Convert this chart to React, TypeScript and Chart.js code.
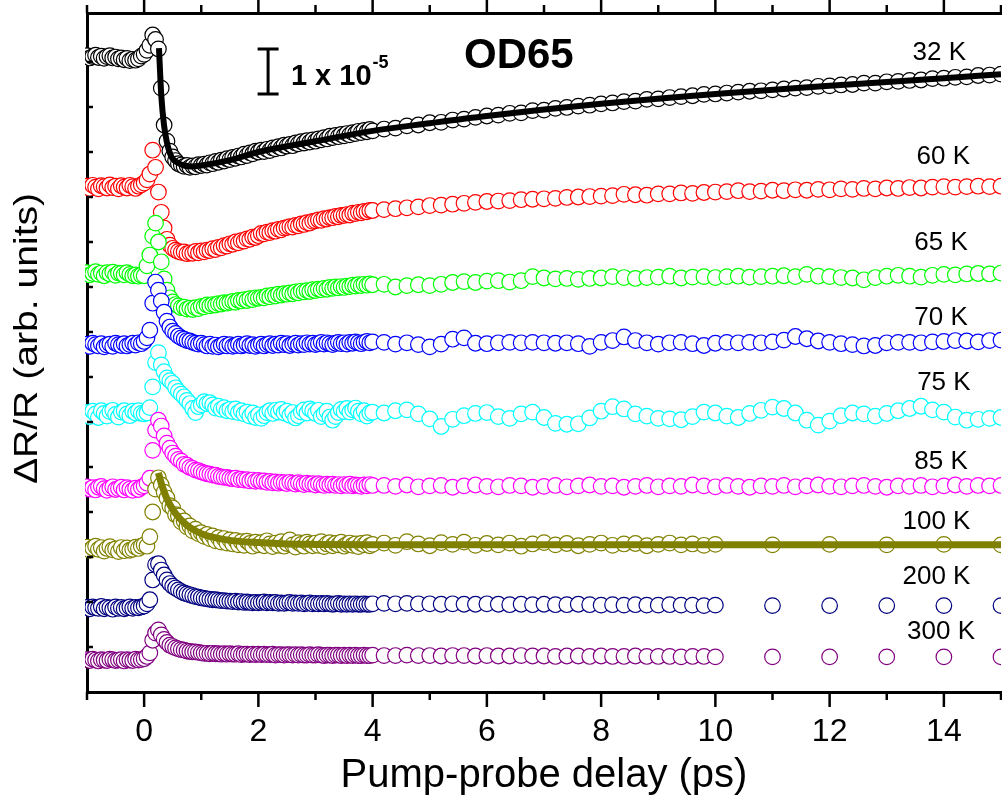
import React, { useEffect, useRef } from 'react';
import { Chart, registerables } from 'chart.js';

Chart.register(...registerables);

const FONT = "'Liberation Sans', Arial, Helvetica, sans-serif";

// ---- delay grids (ps) ----
const X_DENSE = [-1, -0.95, -0.9, -0.85, -0.8, -0.75, -0.7, -0.65, -0.6, -0.55, -0.5, -0.45, -0.4, -0.35, -0.3, -0.25, -0.2, -0.15, -0.1, -0.05,
  0, 0.05, 0.1, 0.15, 0.2, 0.25, 0.3, 0.35, 0.4, 0.45, 0.5, 0.55, 0.6, 0.65, 0.7, 0.75, 0.8, 0.85, 0.9, 0.95,
  1, 1.05, 1.1, 1.15, 1.2, 1.25, 1.3, 1.35, 1.4, 1.45, 1.5, 1.55, 1.6, 1.65, 1.7, 1.75, 1.8, 1.85, 1.9, 1.95,
  2, 2.05, 2.1, 2.15, 2.2, 2.25, 2.3, 2.35, 2.4, 2.45, 2.5, 2.55, 2.6, 2.65, 2.7, 2.75, 2.8, 2.85, 2.9, 2.95,
  3, 3.05, 3.1, 3.15, 3.2, 3.25, 3.3, 3.35, 3.4, 3.45, 3.5, 3.55, 3.6, 3.65, 3.7, 3.75, 3.8, 3.85, 3.9, 3.95, 4];
const X_LONG = [4.2, 4.4, 4.6, 4.8, 5, 5.2, 5.4, 5.6, 5.8, 6, 6.2, 6.4, 6.6, 6.8, 7, 7.2, 7.4, 7.6, 7.8, 8,
  8.2, 8.4, 8.6, 8.8, 9, 9.2, 9.4, 9.6, 9.8, 10, 10.2, 10.4, 10.6, 10.8, 11, 11.2, 11.4, 11.6, 11.8, 12,
  12.2, 12.4, 12.6, 12.8, 13, 13.2, 13.4, 13.6, 13.8, 14, 14.2, 14.4, 14.6, 14.8, 15];
const X_SHORT = [4.2, 4.4, 4.6, 4.8, 5, 5.2, 5.4, 5.6, 5.8, 6, 6.2, 6.4, 6.6, 6.8, 7, 7.2, 7.4, 7.6, 7.8, 8,
  8.2, 8.4, 8.6, 8.8, 9, 9.2, 9.4, 9.6, 9.8, 10, 11, 12, 13, 14, 15];

// ---- signals, units of 1e-6, relative to each curve's own pre-zero level ----
const T32_DENSE = [0.3, -0.2, 0.1, 0.4, -0.1, 0.2, -0.3, 0.1, 0.3, -0.2, 0.0, -0.4, -0.2, -0.6, -0.3, -0.8, -0.5, -0.7, -0.4, 0.2,
  0.6, 1.5, 2.6, 4.9, 3.9, 1.8, -6.9, -15.1, -18.7, -20.9, -22.2, -23.0, -23.7, -24.0, -24.3, -24.1, -24.5, -24.2, -24.4, -23.9, -24.1,
  -23.8, -24.0, -23.5, -23.7, -23.2, -23.4, -22.9, -23.1, -22.6, -22.8, -22.3, -22.5, -22.0, -22.2, -21.6, -21.9, -21.3, -21.5, -20.9, -21.1,
  -20.7, -21.0, -20.5, -20.8, -20.2, -20.4, -19.9, -20.2, -19.6, -19.8, -19.4, -19.7, -19.1, -19.3, -18.8, -19.1, -18.6, -18.9, -18.4, -18.7,
  -18.2, -18.4, -17.9, -18.2, -17.6, -17.9, -17.4, -17.7, -17.2, -17.5, -17.0, -17.3, -16.8, -17.0, -16.5, -16.8, -16.3, -16.6, -16.1, -16.4];
const T32_TAIL = [-16.0, -15.8, -15.3, -15.1, -14.6, -14.5, -14.0, -13.8, -13.4, -13.1,
  -12.9, -12.5, -12.4, -11.9, -11.8, -11.4, -11.2, -10.9, -10.7, -10.4,
  -10.2, -9.9, -9.8, -9.4, -9.3, -9.0, -8.8, -8.6, -8.3, -8.2,
  -8.0, -7.8, -7.6, -7.5, -7.3, -7.1, -6.9, -6.8, -6.5, -6.4,
  -6.2, -6.1, -5.8, -5.8, -5.5, -5.4, -5.2, -5.1, -4.8, -4.7,
  -4.5, -4.4, -4.1, -4.0, -3.8];

const T60_DENSE = [0.2, -0.3, 0.4, 0.0, -0.4, 0.3, 0.1, -0.2, 0.5, -0.1, 0.2, -0.4, 0.3, 0.0, -0.2, 0.4, 0.1, -0.3, 0.2, 0.5,
  0.9, 1.6, 2.9, 8.2, 4.4, -1.1, -5.6, -9.1, -11.6, -12.9, -13.6, -14.0, -14.3, -14.5, -14.4, -14.8, -14.6, -14.7, -14.3, -14.6, -14.2,
  -14.4, -14.0, -14.1, -13.7, -13.9, -13.4, -13.5, -13.0, -13.1, -12.6, -12.7, -12.2, -12.4, -11.9, -12.0, -11.5, -11.6, -11.1, -11.2, -10.8,
  -10.3, -10.4, -10.0, -10.1, -9.7, -9.8, -9.4, -9.5, -9.1, -9.0, -8.8, -8.9, -8.5, -8.6, -8.2, -8.3, -7.9, -8.0, -7.6, -7.5,
  -7.3, -7.4, -7.0, -7.1, -6.8, -6.8, -6.5, -6.6, -6.3, -6.3, -6.1, -6.2, -5.8, -5.9, -5.6, -5.7, -5.4, -5.5, -5.2, -5.2];
const T60_TAIL = [-5.0, -4.8, -4.6, -4.4, -4.1, -4.0, -3.8, -3.6, -3.4, -3.2,
  -3.1, -3.0, -2.8, -2.7, -2.6, -2.5, -2.3, -2.2, -2.1, -2.0,
  -1.9, -1.6, -1.7, -1.8, -1.5, -1.5, -1.3, -1.4, -1.2, -1.1,
  -1.0, -0.8, -1.0, -0.9, -0.7, -0.8, -0.6, -0.7, -0.5, -0.6,
  -0.4, -0.5, -0.3, -0.4, -0.2, -0.3, -0.1, -0.2, 0.0, 0.1,
  0.0, 0.1, 0.2, 0.1, 0.2];

const T65_DENSE = [0.3, -0.2, 0.1, 0.5, -0.1, 0.2, -0.4, 0.3, 0.0, 0.4, -0.3, 0.2, 0.1, -0.2, 0.3, -0.1, -0.4, -0.2, -0.5, -0.3,
  -0.4, 1.8, 4.2, 8.4, 11.3, 7.1, 2.7, -1.1, -3.6, -5.3, -6.2, -6.8, -7.1, -7.5, -7.4, -7.8, -7.6, -7.9, -7.5, -7.7, -7.2,
  -7.3, -6.9, -7.1, -6.8, -6.9, -6.6, -6.7, -6.4, -6.5, -6.3, -6.1, -6.3, -5.9, -6.0, -5.7, -5.9, -5.5, -5.7, -5.3, -5.4,
  -5.2, -5.3, -4.9, -5.1, -4.7, -4.9, -4.5, -4.7, -4.4, -4.5, -4.2, -4.4, -4.0, -4.2, -3.8, -4.0, -3.7, -3.9, -3.5, -3.7,
  -3.4, -3.5, -3.2, -3.4, -3.0, -3.2, -2.9, -3.1, -2.8, -3.0, -2.7, -2.8, -2.5, -2.7, -2.4, -2.6, -2.3, -2.5, -2.2, -2.4];
const T65_TAIL = [-2.3, -2.9, -2.6, -2.4, -2.6, -2.3, -1.9, -1.7, -1.9, -1.6,
  -1.5, -1.8, -1.5, -0.6, -0.9, -1.1, -1.0, -1.2, -1.0, -0.9,
  -0.6, -0.8, -1.0, -0.8, -0.7, -0.5, -0.9, -0.7, -0.6, -0.8,
  -0.6, -0.5, -0.7, -0.6, -0.5, -0.4, -0.6, -0.1, -0.5, -0.6,
  -0.8, -0.9, -1.3, -0.8, -0.5, -0.3, -0.5, -0.7, -0.3, -0.1,
  -0.2, 0.0, 0.1, 0.0, 0.2];

const T70_DENSE = [0.2, -0.3, 0.4, 0.1, -0.2, 0.3, -0.4, 0.0, 0.2, -0.3, 0.4, 0.1, -0.1, 0.3, -0.2, 0.1, 0.4, 0.0, 0.5, 0.3,
  0.8, 1.6, 3.3, 9.3, 14.0, 12.2, 9.8, 7.3, 5.3, 4.0, 3.1, 2.6, 2.0, 1.6, 1.3, 1.0, 0.9, 0.6, 0.4, 0.2, 0.4,
  0.1, -0.2, 0.2, -0.3, 0.0, -0.4, -0.1, 0.2, -0.2, 0.1, -0.3, -0.1, 0.2, -0.2, 0.0, 0.3, -0.1, 0.1, -0.3, 0.0,
  0.2, -0.2, 0.1, 0.3, -0.1, 0.2, 0.0, 0.4, 0.1, 0.3, -0.1, 0.2, 0.4, 0.0, 0.3, 0.1, 0.5, 0.2, 0.4, 0.1,
  0.3, 0.6, 0.2, 0.5, 0.3, 0.1, 0.4, 0.6, 0.3, 0.5, 0.2, 0.6, 0.4, 0.7, 0.5, 0.3, 0.6, 0.8, 0.5, 0.7];
const T70_TAIL = [0.6, 0.2, 0.5, 0.1, -0.4, 0.2, 1.3, 1.6, 0.4, 0.3,
  0.5, 0.6, 0.5, 0.6, 0.5, 0.4, 0.5, 0.3, -0.3, 0.6,
  1.0, 1.8, 1.0, 0.5, 0.2, 0.5, 0.6, 0.3, -0.1, 0.4,
  0.6, 0.5, 0.6, 0.5, 0.7, 1.1, 1.9, 1.4, 0.9, 0.6,
  0.3, 0.1, -0.2, -0.1, 0.5, 0.6, 0.6, 0.5, 0.7, 0.8,
  1.0, 0.9, 0.7, 1.0, 1.1];

const T75_DENSE = [0.5, -0.4, 0.8, 0.2, -0.6, 0.9, 0.3, -0.3, 0.7, 1.0, 0.1, -0.5, 0.6, 0.9, 0.2, -0.2, 0.8, 0.4, 0.9, 0.3,
  0.2, 0.4, 1.6, 6.2, 11.6, 13.8, 11.1, 9.6, 8.2, 7.6, 7.0, 6.0, 5.2, 4.6, 4.0, 3.2, 2.5, 1.4, 0.5, 1.8, 2.2,
  2.9, 2.5, 2.7, 2.2, 1.5, 1.9, 1.2, 1.6, 0.9, 1.2, 0.7, 1.3, 0.5, 0.9, 0.2, 0.6, -0.3, 0.4, -0.6, 0.0,
  -0.8, -0.2, 0.5, 0.9, 0.3, 1.0, 0.6, 1.2, 0.4, 0.8, -0.1, 0.5, -0.7, -0.2, 0.6, 1.1, 0.4, 1.3, 0.9, 0.3,
  1.0, -0.4, 0.2, 0.8, -0.5, -1.2, -0.4, 0.5, 1.2, 0.7, 1.4, 0.6, 1.1, 1.5, 0.8, 0.2, 0.9, -0.3, 0.4, 0.6];
const T75_TAIL = [0.4, 0.9, 1.1, 0.2, -0.9, -2.6, -1.0, -0.2, 0.3, 0.5,
  -0.4, -0.8, 0.2, 0.6, -0.6, -1.9, -2.1, -2.0, -0.7, 0.8,
  1.8, 1.3, 0.2, -0.3, -0.8, -0.9, -1.1, -0.4, 0.6, 0.4,
  -0.3, -0.6, 0.3, 1.0, 1.7, 1.4, 0.4, -1.2, -2.3, -1.4,
  -0.2, 0.4, 0.2, -0.3, 0.3, 0.9, 1.4, 1.9, 1.1, 0.6,
  -0.5, -1.2, -1.0, -0.8, -0.6];

const T85_DENSE = [0.3, -0.2, 0.1, -0.4, 0.2, 0.4, -0.1, -0.5, 0.0, 0.3, -0.3, -0.1, 0.2, -0.4, 0.1, -0.2, -0.5, 0.0, -0.3, 0.2,
  0.5, 1.1, 2.2, 8.4, 12.9, 15.1, 13.8, 11.6, 10.0, 8.9, 7.8, 7.1, 6.4, 6.0, 5.3, 5.1, 4.6, 4.4, 4.0, 3.9, 3.6,
  3.4, 3.2, 3.1, 2.9, 2.9, 2.6, 2.5, 2.4, 2.4, 2.2, 2.1, 2.2, 1.9, 2.0, 1.8, 1.9, 1.6, 1.8, 1.5, 1.7,
  1.5, 1.6, 1.3, 1.5, 1.2, 1.4, 1.1, 1.3, 1.2, 1.0, 1.3, 1.1, 0.9, 1.2, 1.0, 0.8, 1.1, 0.9, 1.0, 0.7,
  1.0, 0.8, 0.6, 0.9, 0.7, 0.9, 0.6, 0.8, 0.5, 0.8, 0.6, 0.9, 0.5, 0.7, 0.6, 0.4, 0.7, 0.5, 0.8, 0.6];
const T85_TAIL = [0.6, 0.4, 0.7, 0.3, 0.5, 0.6, 0.2, 0.5, 0.7, 0.4,
  0.3, 0.6, 0.5, 0.2, 0.4, 0.6, 0.3, 0.5, 0.7, 0.4,
  0.5, 0.2, 0.4, 0.6, 0.3, 0.5, 0.4, 0.7, 0.5, 0.3,
  0.6, 0.4, 0.2, 0.5, 0.4, 0.6, 0.3, 0.5, 0.7, 0.4,
  0.3, 0.5, 0.6, 0.4, 0.2, 0.5, 0.4, 0.6, 0.3, 0.5,
  0.7, 0.4, 0.6, 0.5, 0.6];

const T100_DENSE = [0.4, -0.3, 0.2, 0.6, -0.1, 0.3, -0.5, 0.1, 0.5, -0.2, 0.0, -0.6, 0.3, -0.4, 0.2, -0.3, -0.1, 0.4, 0.1, 0.6,
  0.9, 0.6, 2.7, 8.2, 13.3, 15.8, 14.2, 12.6, 11.3, 9.6, 9.1, 7.6, 7.3, 6.0, 6.2, 4.9, 5.1, 4.0, 4.4, 3.4, 3.6,
  2.8, 3.2, 2.3, 2.9, 1.8, 2.5, 1.5, 2.3, 1.3, 2.0, 1.1, 1.9, 0.9, 1.6, 0.8, 1.7, 1.2, 0.6, 1.5, 0.9,
  1.4, 0.7, 1.8, 1.1, 0.5, 1.3, 0.8, 1.6, 0.6, 1.2, 2.0, 0.9, 0.4, 1.4, 1.0, 0.6, 1.5, 1.1, 0.7, 1.3,
  0.8, 1.6, 0.5, 1.1, 1.4, 0.7, 1.2, 0.9, 1.5, 0.6, 1.0, 1.3, 0.8, 1.1, 0.5, 1.2, 0.9, 1.4, 0.7, 1.0];
const T100_TAIL = [1.3, 0.8, 1.6, 1.1, 0.7, 1.4, 1.0, 1.5, 0.8, 1.2,
  0.9, 1.3, 0.6, 1.1, 1.4, 0.9, 1.2, 0.7, 1.0, 1.3,
  0.8, 1.1, 1.2, 0.7, 1.0, 1.3, 0.9, 1.1, 0.8, 1.0,
  0.9, 1.0, 0.9, 1.0, 0.9];

const T200_DENSE = [0.1, -0.2, 0.2, 0.0, -0.1, 0.3, -0.2, 0.1, 0.0, -0.3, 0.2, -0.1, 0.1, -0.2, 0.0, 0.2, -0.1, 0.1, 0.0, 0.2,
  0.4, 0.9, 1.8, 6.2, 9.6, 9.8, 8.4, 7.3, 6.2, 5.4, 4.8, 4.4, 4.0, 3.6, 3.3, 3.1, 2.9, 2.7, 2.5, 2.4, 2.2,
  2.1, 2.0, 1.9, 1.8, 1.8, 1.7, 1.6, 1.6, 1.5, 1.5, 1.4, 1.5, 1.3, 1.4, 1.2, 1.3, 1.2, 1.1, 1.2, 1.1,
  1.2, 1.3, 1.1, 1.2, 1.1, 1.2, 1.0, 1.1, 1.0, 1.1, 1.2, 1.0, 1.1, 1.0, 1.1, 0.9, 1.0, 1.1, 0.9, 1.0,
  0.9, 1.0, 0.9, 1.0, 0.9, 0.8, 0.9, 1.0, 0.8, 0.9, 0.8, 0.9, 0.8, 0.9, 0.8, 0.8, 0.9, 0.8, 0.8, 0.9];
const T200_TAIL = [1.0, 0.9, 1.0, 0.9, 0.9, 0.8, 0.9, 0.8, 0.8, 0.9,
  0.8, 0.7, 0.8, 0.7, 0.8, 0.7, 0.7, 0.8, 0.7, 0.6,
  0.7, 0.6, 0.7, 0.6, 0.6, 0.7, 0.6, 0.6, 0.5, 0.6,
  0.5, 0.5, 0.5, 0.5, 0.5];

const T300_DENSE = [0.1, -0.1, 0.2, 0.0, -0.2, 0.1, 0.0, -0.1, 0.2, 0.1, -0.1, 0.0, 0.1, -0.2, 0.1, 0.0, -0.1, 0.2, 0.0, 0.1,
  0.3, 0.8, 1.6, 4.4, 6.0, 6.7, 5.6, 4.6, 3.9, 3.3, 3.0, 2.7, 2.5, 2.3, 2.2, 2.0, 1.9, 1.8, 1.8, 1.7, 1.6,
  1.5, 1.5, 1.4, 1.5, 1.4, 1.4, 1.3, 1.4, 1.3, 1.4, 1.3, 1.3, 1.4, 1.2, 1.3, 1.3, 1.2, 1.3, 1.2, 1.3,
  1.2, 1.3, 1.2, 1.2, 1.3, 1.1, 1.2, 1.2, 1.1, 1.2, 1.2, 1.1, 1.2, 1.1, 1.2, 1.1, 1.1, 1.2, 1.1, 1.1,
  1.2, 1.1, 1.0, 1.1, 1.1, 1.0, 1.1, 1.1, 1.0, 1.1, 1.0, 1.1, 1.0, 1.1, 1.0, 1.0, 1.1, 1.0, 1.0, 1.1];
const T300_TAIL = [1.0, 1.0, 1.1, 1.0, 1.0, 0.9, 1.0, 1.0, 0.9, 1.0,
  0.9, 0.9, 1.0, 0.9, 0.9, 0.8, 0.9, 0.9, 0.8, 0.9,
  0.8, 0.8, 0.9, 0.8, 0.8, 0.8, 0.7, 0.8, 0.8, 0.7,
  0.7, 0.7, 0.7, 0.7, 0.7];

// ---- fits ----
const FIT32_X = [0.26, 0.3, 0.35, 0.4, 0.45, 0.5, 0.6, 0.7, 0.8, 1.0, 1.5, 2, 3, 4, 5, 6, 8, 10, 12, 14, 15];
const FIT32_Y = [2.0, -8.5, -15.3, -19.0, -21.3, -22.6, -23.6, -24.1, -24.3, -24.1, -22.9, -21.1, -18.7, -16.4, -14.7, -13.1, -10.4, -8.2, -6.4, -4.7, -3.8];
const FIT100_X = [0.25, 0.3, 0.35, 0.4, 0.5, 0.6, 0.7, 0.8, 1.0, 1.2, 1.5, 2.0, 2.5, 3.0, 4.0, 6.0, 10.0, 15.0];
const FIT100_Y = [16.9, 14.6, 12.7, 11.1, 8.8, 7.1, 5.8, 4.8, 3.4, 2.6, 1.9, 1.4, 1.1, 1.0, 0.9, 0.9, 0.9, 0.9];

// ---- series meta ----
const LABELS = ['32 K', '60 K', '65 K', '70 K', '75 K', '85 K', '100 K', '200 K', '300 K'];
const OFFSETS = [141.1, 112.2, 92.9, 77.1, 61.6, 45.3, 31.8, 18.7, 7.1];
const COLORS = ['#000000', '#FF0000', '#00FF00', '#0000FF', '#00FFFF', '#FF00FF', '#808000', '#000080', '#800080'];
const DENSE = [T32_DENSE, T60_DENSE, T65_DENSE, T70_DENSE, T75_DENSE, T85_DENSE, T100_DENSE, T200_DENSE, T300_DENSE];
const TAILS = [T32_TAIL, T60_TAIL, T65_TAIL, T70_TAIL, T75_TAIL, T85_TAIL, T100_TAIL, T200_TAIL, T300_TAIL];
const TAIL_GRID = [X_LONG, X_LONG, X_LONG, X_LONG, X_LONG, X_LONG, X_SHORT, X_SHORT, X_SHORT];

// label anchors in data coordinates (x in ps, y in 1e-6)
const LABEL_POS = [[13.92, 142.0], [13.99, 118.9], [13.95, 99.8], [13.95, 83.1], [14.0, 68.7], [13.95, 51.1], [13.87, 37.8], [13.87, 25.6], [13.95, 13.3]];
const TITLE_POS = [6.56, 141.3];
const SCALEBAR = { x: 2.17, top: 142.9, length: 10 };
const SCALE_TEXT_POS = [2.57, 134.9];

const pts = (xs: number[], ys: number[], off: number) =>
  xs.slice(0, Math.min(xs.length, ys.length)).map((x, i) => ({ x, y: ys[i] + off }));

const decorPlugin = {
  id: 'decor',
  afterDraw(chart: any) {
    const ctx = chart.ctx as CanvasRenderingContext2D;
    const xs = chart.scales.x;
    const ys = chart.scales.y;
    const { top, bottom, left } = chart.chartArea;
    ctx.save();
    ctx.strokeStyle = '#000';
    ctx.lineWidth = 2.5;
    for (const t of xs.ticks) {
      const v = t.value;
      const px = xs.getPixelForValue(v);
      const major = Math.round(v) % 2 === 0;
      ctx.beginPath();
      ctx.moveTo(px, bottom);
      ctx.lineTo(px, bottom + (major ? 15 : 8));
      ctx.stroke();
      ctx.beginPath();
      ctx.moveTo(px, top);
      ctx.lineTo(px, top - (major ? 14 : 8));
      ctx.stroke();
    }
    for (const t of ys.ticks) {
      const v = t.value;
      if (v <= 0 || v >= 150 || Math.abs(v % 10) > 1e-6) continue;
      const py = ys.getPixelForValue(v);
      ctx.beginPath();
      ctx.moveTo(left, py);
      ctx.lineTo(left + 6, py);
      ctx.stroke();
    }

    // temperature labels
    ctx.fillStyle = '#000';
    ctx.textAlign = 'center';
    ctx.textBaseline = 'middle';
    ctx.font = `26px ${FONT}`;
    LABELS.forEach((lab, i) => {
      ctx.fillText(lab, xs.getPixelForValue(LABEL_POS[i][0]), ys.getPixelForValue(LABEL_POS[i][1]));
    });

    // sample title
    ctx.font = `bold 42px ${FONT}`;
    ctx.fillText('OD65', xs.getPixelForValue(TITLE_POS[0]), ys.getPixelForValue(TITLE_POS[1]));

    // scale bar
    const sx = xs.getPixelForValue(SCALEBAR.x);
    const sy1 = ys.getPixelForValue(SCALEBAR.top);
    const sy2 = ys.getPixelForValue(SCALEBAR.top - SCALEBAR.length);
    ctx.lineWidth = 3;
    ctx.beginPath();
    ctx.moveTo(sx, sy1); ctx.lineTo(sx, sy2);
    ctx.moveTo(sx - 10.5, sy1); ctx.lineTo(sx + 10.5, sy1);
    ctx.moveTo(sx - 10.5, sy2); ctx.lineTo(sx + 10.5, sy2);
    ctx.stroke();

    ctx.textAlign = 'left';
    ctx.textBaseline = 'alphabetic';
    ctx.font = `bold 29px ${FONT}`;
    const tx = xs.getPixelForValue(SCALE_TEXT_POS[0]);
    const ty = ys.getPixelForValue(SCALE_TEXT_POS[1]);
    const main = '1 x 10';
    ctx.fillText(main, tx, ty);
    const w = ctx.measureText(main).width;
    ctx.font = `bold 18px ${FONT}`;
    ctx.fillText('-5', tx + w + 1, ty - 17);

    // y axis title
    ctx.save();
    ctx.translate(28, (top + bottom) / 2 - 14);
    ctx.rotate(-Math.PI / 2);
    ctx.scale(1.15, 1);
    ctx.font = `34px ${FONT}`;
    ctx.textAlign = 'center';
    ctx.textBaseline = 'middle';
    ctx.fillText('ΔR/R (arb. units)', 0, 0);
    ctx.restore();

    ctx.restore();
  },
};

export default function App() {
  const ref = useRef<HTMLCanvasElement | null>(null);
  useEffect(() => {
    if (!ref.current) return;
    const datasets: any[] = [];
    datasets.push({
      label: '32 K fit', data: pts(FIT32_X, FIT32_Y, OFFSETS[0]), showLine: true,
      borderColor: '#000', borderWidth: 6, pointRadius: 0, cubicInterpolationMode: 'monotone',
      order: 0, clip: { left: 0, top: 0, right: 0, bottom: 0 },
    });
    datasets.push({
      label: '100 K fit', data: pts(FIT100_X, FIT100_Y, OFFSETS[6]), showLine: true,
      borderColor: '#808000', borderWidth: 7, pointRadius: 0, cubicInterpolationMode: 'monotone',
      order: 0, clip: { left: 0, top: 0, right: 0, bottom: 0 },
    });
    LABELS.forEach((lab, i) => {
      const data = pts(X_DENSE, DENSE[i], OFFSETS[i]).concat(pts(TAIL_GRID[i], TAILS[i], OFFSETS[i]));
      datasets.push({
        label: lab, data, showLine: false,
        pointRadius: 7.8, pointBorderWidth: 1.2, pointBorderColor: COLORS[i],
        pointBackgroundColor: '#FFFFFF', pointStyle: 'circle',
        order: LABELS.length - i, clip: { left: 2, top: 0, right: 0, bottom: 0 },
      });
    });

    const chart = new Chart(ref.current, {
      type: 'scatter',
      data: { datasets },
      plugins: [decorPlugin],
      options: {
        animation: false,
        responsive: false,
        devicePixelRatio: 1,
        events: [],
        layout: { padding: { left: 0, right: 5, top: 0, bottom: 0 } },
        plugins: { legend: { display: false }, tooltip: { enabled: false } },
        scales: {
          x: {
            type: 'linear', position: 'bottom', min: -1, max: 15,
            afterFit: (s: any) => { s.height = 116; s.paddingLeft = 0; s.paddingRight = 0; },
            ticks: {
              stepSize: 1, autoSkip: false, maxRotation: 0, minRotation: 0, color: '#000', padding: 0,
              font: { family: FONT, size: 32 },
              callback: (v: any) => (Math.round(Number(v)) % 2 === 0 ? String(v) : ''),
            },
            grid: { display: false, drawTicks: true, tickLength: 21 },
            border: { display: true, color: '#000', width: 3 },
            title: {
              display: true, text: 'Pump-probe delay (ps)', color: '#000',
              font: { family: FONT, size: 40 }, padding: { top: 0, bottom: 8 },
            },
          },
          xTop: {
            type: 'linear', position: 'top', min: -1, max: 15, display: true,
            afterFit: (s: any) => { s.height = 13; s.paddingLeft = 0; s.paddingRight = 0; },
            ticks: { display: false, padding: 0 },
            grid: { display: false, drawTicks: false },
            border: { display: true, color: '#000', width: 3 },
          },
          y: {
            type: 'linear', position: 'left', min: 0, max: 150.89,
            afterFit: (s: any) => { s.width = 87; },
            ticks: { display: false, stepSize: 10 },
            grid: { display: false, drawTicks: false },
            border: { display: true, color: '#000', width: 3 },
          },
        },
      } as any,
    });
    return () => chart.destroy();
  }, []);

  return (
    <div style={{ position: 'absolute', left: 0, top: 0, width: 1002, height: 808, overflow: 'hidden', background: '#fff' }}>
      <canvas ref={ref} width={1010} height={808} style={{ display: 'block', width: 1010, height: 808 }} />
    </div>
  );
}
